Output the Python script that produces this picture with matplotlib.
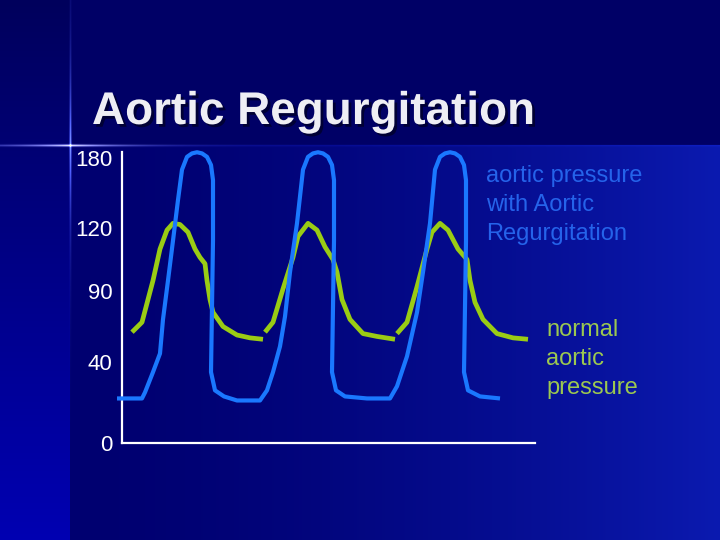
import matplotlib
matplotlib.use("Agg")
import matplotlib.pyplot as plt
import numpy as np
from matplotlib import patheffects

# aortic pressure with aortic regurgitation (time in s, pressure in mmHg)
TIME_AR = [0.00, 0.25, 0.28, 0.36, 0.43, 0.46, 0.51, 0.56, 0.61, 0.65,
           0.70, 0.75, 0.80, 0.85, 0.90, 0.94, 0.96, 0.96, 0.95, 0.94,
           0.98, 1.07, 1.20, 1.43,
           1.50, 1.56, 1.63, 1.68, 1.73, 1.80, 1.86, 1.91, 1.96, 2.01,
           2.06, 2.11, 2.15, 2.17, 2.17, 2.16, 2.15, 2.19, 2.28, 2.50, 2.73,
           2.80, 2.90, 3.00, 3.06, 3.13, 3.18, 3.23, 3.28, 3.33, 3.38,
           3.43, 3.47, 3.49, 3.49, 3.48, 3.47, 3.51, 3.63, 3.83]
PRESSURE_AR = [22, 22, 25, 35, 46, 70, 95, 114, 144, 170,
               181, 184, 185, 184, 181, 174, 161, 114, 79, 35,
               26, 23, 21, 21,
               26, 35, 51, 72, 99, 124, 170, 181, 184, 185,
               184, 181, 174, 161, 114, 79, 35, 26, 23, 22, 22,
               28, 44, 75, 99, 124, 170, 181, 184, 185, 184,
               181, 174, 161, 114, 79, 35, 26, 23, 22]

# normal aortic pressure, three beats separated by gaps
TIME_NORMAL = [0.15, 0.25, 0.36, 0.43, 0.50, 0.56, 0.63, 0.71, 0.78, 0.83,
               0.88, 0.90, 0.93, 0.96, 1.06, 1.20, 1.33, 1.46, np.nan,
               1.48, 1.56, 1.66, 1.76, 1.81, 1.91, 2.00, 2.08, 2.16, 2.20,
               2.25, 2.33, 2.46, 2.60, 2.78, np.nan,
               2.80, 2.90, 3.00, 3.10, 3.15, 3.23, 3.31, 3.41, 3.50, 3.53,
               3.58, 3.66, 3.80, 3.96, 4.11]
PRESSURE_NORMAL = [61, 68, 95, 110, 119, 124, 123, 118, 110, 106,
                   103, 95, 84, 75, 65, 59, 57, 56, np.nan,
                   61, 68, 91, 106, 116, 124, 119, 111, 105, 99,
                   84, 70, 60, 58, 56, np.nan,
                   60, 68, 92, 110, 118, 124, 119, 110, 105, 95,
                   82, 70, 60, 57, 56]

TICK_VALUES = [0, 40, 90, 120, 180]
TICK_LABELS = ["0", "40", "90", "120", "180"]

TITLE = "Aortic Regurgitation"
LABEL_AR = "aortic pressure\nwith Aortic\nRegurgitation"
LABEL_NORMAL = "normal\naortic\npressure"

# the slide's pressure axis is not linear: map mmHg to drawn height
SCALE_P = [0, 40, 90, 120, 180, 200]
SCALE_H = [0, 81, 152, 215, 285, 308]

W, H = 720, 540


def scale_forward(p):
    return np.interp(p, SCALE_P, SCALE_H)


def scale_inverse(h):
    return np.interp(h, SCALE_H, SCALE_P)


def make_background():
    yy, xx = np.mgrid[0:H, 0:W].astype(float)
    img = np.zeros((H, W, 3))

    # top band
    img[..., 2] = 0x66 / 255

    # right panel gradient below the rule
    t = np.clip((xx - 70) / 650, 0, 1) ** 1.6
    dark = np.array([0x00, 0x00, 0x70]) / 255
    bright = np.array([0x0b, 0x1a, 0xb0]) / 255
    panel = dark + (bright - dark) * t[..., None]
    lower = yy >= 145
    img[lower] = panel[lower]

    # left strip, darker at the top
    s = (yy / H)[..., None]
    top_c = np.array([0, 0, 0x5c]) / 255
    bot_c = np.array([0, 0, 0xb2]) / 255
    strip = top_c + (bot_c - top_c) * s
    left = xx < 70
    img[left] = strip[left]

    # glowing cross lines
    hx = np.exp(-np.abs(xx - 70) / 45)
    hrow = np.exp(-((yy - 145) ** 2) / 1.2)
    img += hrow[..., None] * (hx[..., None] * np.array([0.9, 0.9, 0.8])
                              + 0.08 * np.array([0.15, 0.25, 0.9]))
    vy = np.exp(-np.abs(yy - 145) / 55)
    vcol = np.exp(-((xx - 70) ** 2) / 1.0)
    img += vcol[..., None] * vy[..., None] * np.array([0.5, 0.6, 0.9])
    return np.clip(img, 0, 1)


fig = plt.figure(figsize=(W / 100, H / 100), dpi=100)

ax_bg = fig.add_axes([0, 0, 1, 1])
ax_bg.imshow(make_background(), extent=[0, W, H, 0], aspect="auto", interpolation="bilinear")
ax_bg.axis("off")

ax = fig.add_axes([100 / W, 97 / H, 500 / W, 308 / H])
ax.patch.set_alpha(0)
ax.set_yscale("function", functions=(scale_forward, scale_inverse))
ax.set_xlim(-0.17, 4.83)
ax.set_ylim(0, 200)

ax.plot(TIME_NORMAL, PRESSURE_NORMAL, color="#9acc14", lw=3.4,
        solid_capstyle="butt", solid_joinstyle="round", zorder=2, clip_on=False)
ax.plot(TIME_AR, PRESSURE_AR, color="#1a78ff", lw=3.0,
        solid_capstyle="butt", solid_joinstyle="round", zorder=3, clip_on=False)

for side in ("top", "right"):
    ax.spines[side].set_visible(False)
ax.spines["left"].set_position(("data", 0.05))
ax.spines["left"].set_bounds(0, 185)
ax.spines["bottom"].set_bounds(0.05, 4.18)
for side in ("left", "bottom"):
    ax.spines[side].set_color("white")
    ax.spines[side].set_linewidth(1.6)

ax.set_xticks([])
ax.set_yticks(TICK_VALUES, TICK_LABELS)
ax.tick_params(axis="y", length=0, pad=7, labelsize=16, labelcolor="white")
for lab in ax.get_yticklabels():
    lab.set_family("Liberation Sans")

fig.text(92 / W, 1 - 124 / H, TITLE, fontsize=33, fontweight="bold",
         family="Liberation Sans", color="#eeeef4", va="baseline",
         path_effects=[patheffects.withSimplePatchShadow(offset=(2, -2),
                                                         shadow_rgbFace="#000030",
                                                         alpha=0.9)])

fig.text(486 / W, 1 - 205 / H, LABEL_AR, fontsize=17, family="Liberation Sans",
         color="#2563ea", va="center", ha="left", linespacing=1.42)
fig.text(546 / W, 1 - 359 / H, LABEL_NORMAL, fontsize=17, family="Liberation Sans",
         color="#9cc850", va="center", ha="left", linespacing=1.42)

fig.savefig("out.png", dpi=100)
